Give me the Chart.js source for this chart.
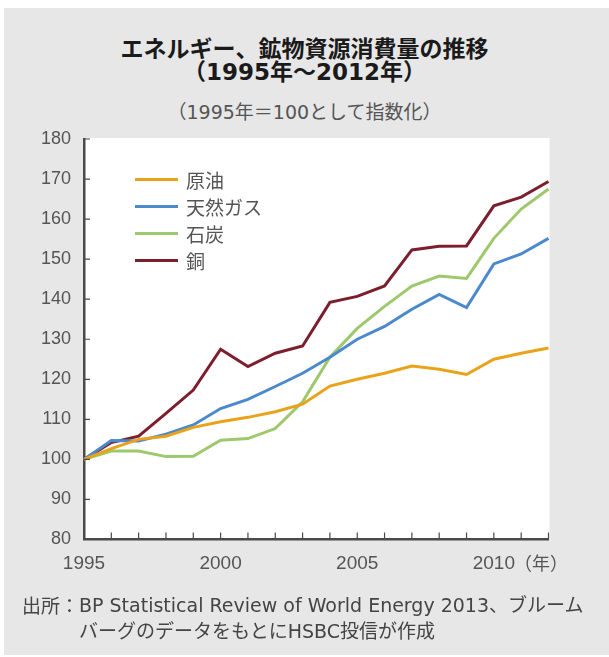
<!DOCTYPE html>
<html>
<head>
<meta charset="utf-8">
<script src="https://cdn.jsdelivr.net/npm/chart.js@4.4.1/dist/chart.umd.min.js"></script>
<style>
	html, body { margin: 0; padding: 0; background: #fff; }
	#wrap { position: relative; width: 609px; height: 657px; overflow: hidden; font-family: 'DejaVu Sans', 'Noto Sans CJK JP', sans-serif; }
	#panel { position: absolute; left: 4px; top: 8px; width: 605px; height: 647px; background: #e7e7e7; }
	canvas { position: absolute; left: 0; top: 0; }
	.txt { position: absolute; white-space: nowrap; line-height: 1; }
	.title { left: 0; width: 609px; text-align: center; font-weight: bold; color: #1a1a1a; }
	#legend { position: absolute; left: 135px; top: 166px; }
	.legendItem { height: 27px; display: flex; align-items: center; }
	.legendLine { width: 43px; height: 3px; margin-right: 8px; }
	.legendLabel { font-size: 19px; color: #555; line-height: 1; font-family: 'Noto Sans CJK JP', sans-serif; }
	#source { position: absolute; left: 22px; top: 592px; display: flex; font-size: 19px; color: #444; line-height: 26px; white-space: nowrap; }
	#source .lbl { font-family: 'Noto Sans CJK JP', sans-serif; }
</style>
</head>
<body>
<div id="wrap">
	<div id="panel"></div>
	<div class="txt title" style="top:36px; font-size:23px; font-family:'Noto Sans CJK JP', sans-serif;">エネルギー、鉱物資源消費量の推移</div>
	<div class="txt title" style="top:61px; font-size:23px;">（1995年～2012年）</div>
	<div class="txt" style="top:103px; left:0; width:609px; text-align:center; font-size:19px; color:#555;">（1995年＝100として指数化）</div>
	<canvas id="energyChart" width="609" height="657"></canvas>
	<div id="legend"></div>
	<div class="txt" style="top:553px; left:514px; font-size:18px; color:#555; font-family:'Noto Sans CJK JP', sans-serif;">（年）</div>
	<div id="source">
		<span class="lbl">出所：</span>
		<div>BP Statistical Review of World Energy 2013、ブルーム<br>バーグのデータをもとにHSBC投信が作成</div>
	</div>
</div>
<script>
var years = [1995, 1996, 1997, 1998, 1999, 2000, 2001, 2002, 2003, 2004, 2005, 2006, 2007, 2008, 2009, 2010, 2011, 2012];

var crudeOil = [100, 102.7, 105, 105.8, 108, 109.4, 110.5, 111.9, 113.8, 118.3, 120, 121.5, 123.3, 122.5, 121.2, 125, 126.5, 127.8];
var naturalGas = [100, 104.7, 104.6, 106.3, 108.6, 112.7, 115, 118.2, 121.5, 125.5, 130, 133.2, 137.5, 141.2, 137.9, 148.8, 151.3, 155.2];
var coal = [100, 102.1, 102.1, 100.7, 100.8, 104.8, 105.2, 107.7, 114.4, 125.5, 132.7, 138.2, 143.3, 145.8, 145.2, 155.2, 162.5, 167.5];
var copper = [100, 104.2, 105.8, 111.5, 117.3, 127.5, 123.2, 126.5, 128.3, 139.2, 140.7, 143.3, 152.3, 153.2, 153.3, 163.3, 165.5, 169.4];

var seriesNames = ['原油', '天然ガス', '石炭', '銅'];
var yTicks = [80, 90, 100, 110, 120, 130, 140, 150, 160, 170, 180];
var xLabelYears = [1995, 2000, 2005, 2010];

var colors = ['#e9a31b', '#4b89cd', '#9dc86c', '#7b1e2e'];
var axisColor = '#4a4a4a';

function makeDataset(i, values) {
	return {
		label: seriesNames[i],
		data: values,
		borderColor: colors[i],
		borderWidth: 3,
		pointRadius: 0,
		tension: 0,
		clip: 6
	};
}

// white plot area plus inward tick marks
var plotDecor = {
	id: 'plotDecor',
	beforeDraw: function(chart) {
		var a = chart.chartArea;
		var ctx = chart.ctx;
		ctx.save();
		ctx.fillStyle = '#fff';
		ctx.fillRect(a.left, a.top - 1, a.right - a.left + 1, a.bottom - a.top + 1);
		ctx.restore();
	},
	afterDraw: function(chart) {
		var a = chart.chartArea;
		var ctx = chart.ctx;
		var xs = chart.scales.x;
		var ys = chart.scales.y;
		ctx.save();
		ctx.strokeStyle = axisColor;
		ctx.lineWidth = 1.2;
		ctx.beginPath();
		for (var i = 1; i < years.length; i++) {
			var px = xs.getPixelForValue(i);
			ctx.moveTo(px, a.bottom);
			ctx.lineTo(px, a.bottom - 7);
		}
		yTicks.forEach(function(v) {
			if (v === yTicks[0]) return;
			var py = ys.getPixelForValue(v);
			ctx.moveTo(a.left, py);
			ctx.lineTo(a.left + 6, py);
		});
		ctx.stroke();
		ctx.restore();
	}
};

var chartConfig = {
	type: 'line',
	data: {
		labels: years,
		datasets: [
			makeDataset(0, crudeOil),
			makeDataset(1, naturalGas),
			makeDataset(2, coal),
			makeDataset(3, copper)
		]
	},
	options: {
		responsive: false,
		animation: false,
		devicePixelRatio: 1,
		layout: {
			padding: { left: 0, right: 60.5, top: 139, bottom: 77.5 }
		},
		scales: {
			x: {
				type: 'category',
				offset: false,
				afterFit: function(s) { s.height = 40; },
				grid: { drawOnChartArea: false, drawTicks: false },
				border: { display: true, color: axisColor, width: 2.5 },
				ticks: {
					autoSkip: false,
					maxRotation: 0,
					padding: 13,
					color: '#555',
					font: { family: 'Liberation Sans', size: 19 },
					callback: function(val, idx) {
						var yr = years[idx];
						return xLabelYears.indexOf(yr) >= 0 ? String(yr) : '';
					}
				}
			},
			y: {
				min: 80,
				max: 180,
				afterFit: function(s) { s.width = 84; },
				afterBuildTicks: function(s) {
					s.ticks = yTicks.map(function(v) { return { value: v }; });
				},
				grid: { drawOnChartArea: false, drawTicks: false },
				border: { display: true, color: axisColor, width: 2.5 },
				ticks: {
					padding: 13,
					color: '#555',
					font: { family: 'Liberation Sans', size: 18 }
				}
			}
		},
		plugins: {
			legend: { display: false },
			tooltip: { enabled: false }
		}
	},
	plugins: [plotDecor]
};

// eslint-disable-next-line no-undef
var chart = new Chart(document.getElementById('energyChart'), chartConfig);

var legendElem = document.getElementById('legend');
chartConfig.data.datasets.forEach(function(ds) {
	var row = document.createElement('div');
	row.className = 'legendItem';
	row.innerHTML = '<span class="legendLine" style="background:' + ds.borderColor + '"></span><span class="legendLabel">' + ds.label + '</span>';
	legendElem.appendChild(row);
});
</script>
</body>
</html>
